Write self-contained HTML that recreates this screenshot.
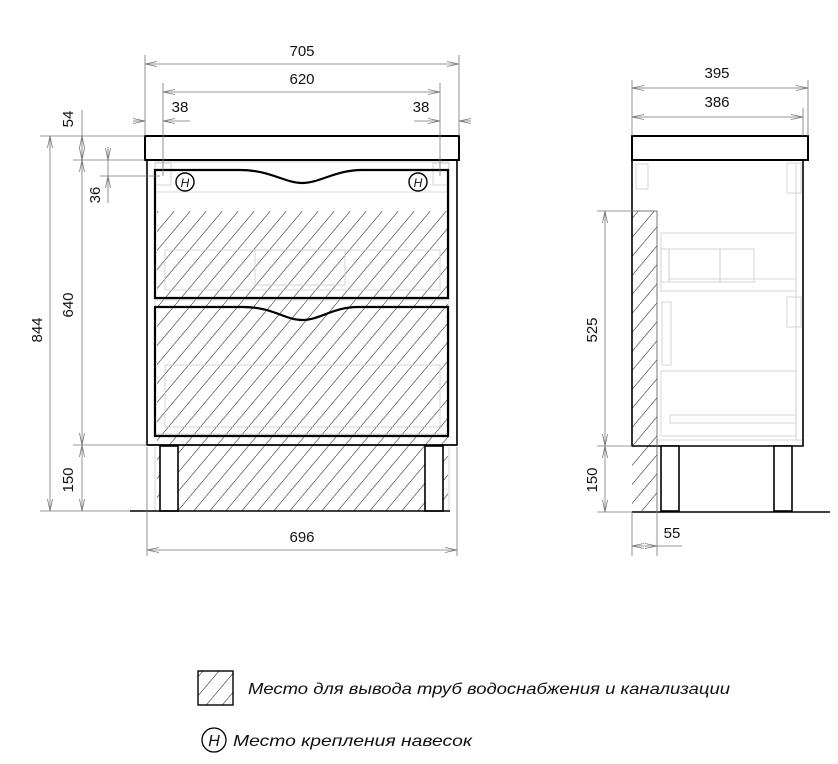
<!DOCTYPE html>
<html><head><meta charset="utf-8"><style>
html,body{margin:0;padding:0;background:#fff;width:838px;height:764px;overflow:hidden}
svg{display:block}
text{font-family:"Liberation Sans",sans-serif;fill:#111}
</style></head><body>
<svg width="838" height="764" viewBox="0 0 838 764" xmlns="http://www.w3.org/2000/svg">
<defs>
<pattern id="h" patternUnits="userSpaceOnUse" width="16" height="19">
<path d="M-16,19 L0,0 M0,19 L16,0 M16,19 L32,0" stroke="#444" stroke-width="0.65"/>
</pattern>
<marker id="a" markerWidth="12" markerHeight="6" refX="12" refY="3" orient="auto-start-reverse" markerUnits="userSpaceOnUse">
<path d="M0,0.5 L12,3 L0,5.5" fill="none" stroke="#777" stroke-width="0.8"/>
</marker>
</defs>

<!-- FRONT VIEW -->
<g fill="none">
<rect x="157" y="211" width="291" height="300" fill="url(#h)"/>
<g stroke="#ccc" stroke-width="0.8">
<rect x="155" y="162" width="294" height="272"/>
<line x1="155" y1="192" x2="448" y2="192"/>
<line x1="155" y1="300" x2="448" y2="300"/>
<rect x="165" y="250" width="275" height="40"/>
<rect x="255" y="250" width="90" height="35"/>
<rect x="165" y="365" width="275" height="62"/>
<line x1="155" y1="447" x2="155" y2="511"/>
<line x1="449" y1="447" x2="449" y2="511"/>
<rect x="155" y="163" width="16" height="22"/>
<rect x="433" y="163" width="16" height="22"/>
</g>
<rect x="145" y="136" width="314" height="24" stroke="#000" stroke-width="2" fill="#fff"/>
<path d="M147,160 V445 H457 V160" stroke="#000" stroke-width="1.6"/>
<path d="M155,170 H240 C270,170 285,183 302,183 C320,183 335,170 362,170 H448 V298 H155 Z" stroke="#000" stroke-width="2.2"/>
<path d="M155,307 H243 C273,307 285,320 302,320 C320,320 333,307 358,307 H448 V436 H155 Z" stroke="#000" stroke-width="2.2"/>
<line x1="147" y1="445" x2="457" y2="445" stroke="#000" stroke-width="1.6"/>
<rect x="160" y="446" width="18" height="65" stroke="#000" stroke-width="1.6" fill="#fff"/>
<rect x="425" y="446" width="18" height="65" stroke="#000" stroke-width="1.6" fill="#fff"/>
<line x1="130" y1="511" x2="450" y2="511" stroke="#000" stroke-width="1.6"/>
<circle cx="185" cy="182" r="9" stroke="#000" stroke-width="1.4" fill="#fff"/>
<circle cx="418" cy="182" r="9" stroke="#000" stroke-width="1.4" fill="#fff"/>
</g>
<text x="185" y="187" font-size="12" font-style="italic" text-anchor="middle">H</text>
<text x="418" y="187" font-size="12" font-style="italic" text-anchor="middle">H</text>

<g stroke="#777" stroke-width="0.8" fill="none">
<line x1="145" y1="55" x2="145" y2="136"/>
<line x1="459" y1="55" x2="459" y2="136"/>
<line x1="163" y1="83" x2="163" y2="176"/>
<line x1="440" y1="83" x2="440" y2="176"/>
<line x1="145" y1="64" x2="459" y2="64" marker-start="url(#a)" marker-end="url(#a)"/>
<line x1="163" y1="92" x2="440" y2="92" marker-start="url(#a)" marker-end="url(#a)"/>
<line x1="133" y1="121" x2="145" y2="121" marker-end="url(#a)"/>
<line x1="190" y1="121" x2="163" y2="121" marker-end="url(#a)"/>
<line x1="414" y1="121" x2="440" y2="121" marker-end="url(#a)"/>
<line x1="471" y1="121" x2="459" y2="121" marker-end="url(#a)"/>
<line x1="40" y1="136" x2="145" y2="136"/>
<line x1="73" y1="160" x2="145" y2="160"/>
<line x1="100" y1="176" x2="160" y2="176"/>
<line x1="73" y1="445" x2="147" y2="445"/>
<line x1="40" y1="511" x2="130" y2="511"/>
<line x1="50" y1="136" x2="50" y2="511" marker-start="url(#a)" marker-end="url(#a)"/>
<line x1="82" y1="110" x2="82" y2="136"/>
<line x1="82" y1="136" x2="82" y2="160" marker-start="url(#a)" marker-end="url(#a)"/>
<line x1="82" y1="160" x2="82" y2="445" marker-start="url(#a)" marker-end="url(#a)"/>
<line x1="82" y1="445" x2="82" y2="511" marker-start="url(#a)" marker-end="url(#a)"/>
<line x1="108" y1="147" x2="108" y2="160" marker-end="url(#a)"/>
<line x1="108" y1="203" x2="108" y2="176" marker-end="url(#a)"/>
<line x1="108" y1="160" x2="108" y2="176"/>
<line x1="147" y1="447" x2="147" y2="556"/>
<line x1="457" y1="447" x2="457" y2="556"/>
<line x1="147" y1="550" x2="457" y2="550" marker-start="url(#a)" marker-end="url(#a)"/>
</g>
<g font-size="15">
<text x="302" y="56" text-anchor="middle">705</text>
<text x="302" y="84" text-anchor="middle">620</text>
<text x="180" y="112" text-anchor="middle">38</text>
<text x="421" y="112" text-anchor="middle">38</text>
<text x="302" y="542" text-anchor="middle">696</text>
<text transform="translate(42,330) rotate(-90)" text-anchor="middle">844</text>
<text transform="translate(73,305) rotate(-90)" text-anchor="middle">640</text>
<text transform="translate(73,119) rotate(-90)" text-anchor="middle">54</text>
<text transform="translate(100,195) rotate(-90)" text-anchor="middle">36</text>
<text transform="translate(73,480) rotate(-90)" text-anchor="middle">150</text>
<text transform="translate(597,330) rotate(-90)" text-anchor="middle">525</text>
<text transform="translate(597,480) rotate(-90)" text-anchor="middle">150</text>
<text x="717" y="78" text-anchor="middle">395</text>
<text x="717" y="107" text-anchor="middle">386</text>
<text x="672" y="538" text-anchor="middle">55</text>
</g>

<!-- SIDE VIEW -->
<g fill="none">
<rect x="632" y="211" width="25" height="300" fill="url(#h)"/>
<g stroke="#ccc" stroke-width="0.8">
<rect x="661" y="233" width="135" height="58"/>
<rect x="661" y="249" width="8" height="33"/>
<rect x="669" y="249" width="51" height="33"/>
<rect x="720" y="249" width="34" height="33"/>
<line x1="669" y1="279" x2="796" y2="279"/>
<rect x="662" y="302" width="9" height="63"/>
<rect x="661" y="371" width="135" height="65"/>
<rect x="670" y="415" width="126" height="8"/>
<line x1="657" y1="440" x2="803" y2="440"/>
<line x1="796" y1="163" x2="796" y2="440"/>
<rect x="787" y="163" width="14" height="30"/>
<rect x="787" y="297" width="14" height="30"/>
<rect x="636" y="164" width="12" height="25"/>
</g>
<rect x="632" y="136" width="176" height="24" stroke="#000" stroke-width="2" fill="#fff"/>
<path d="M632,160 V446 H803 V160" stroke="#000" stroke-width="1.6"/>
<line x1="632" y1="211" x2="657" y2="211" stroke="#555" stroke-width="0.8"/>
<line x1="657" y1="211" x2="657" y2="511" stroke="#555" stroke-width="0.8"/>
<rect x="661" y="446" width="18" height="65" stroke="#000" stroke-width="1.6" fill="#fff"/>
<rect x="774" y="446" width="18" height="65" stroke="#000" stroke-width="1.6" fill="#fff"/>
<line x1="632" y1="512" x2="830" y2="512" stroke="#000" stroke-width="1.6"/>
</g>
<g stroke="#777" stroke-width="0.8" fill="none">
<line x1="632" y1="80" x2="632" y2="136"/>
<line x1="808" y1="80" x2="808" y2="136"/>
<line x1="803" y1="108" x2="803" y2="136"/>
<line x1="632" y1="88" x2="808" y2="88" marker-start="url(#a)" marker-end="url(#a)"/>
<line x1="632" y1="117" x2="803" y2="117" marker-start="url(#a)" marker-end="url(#a)"/>
<line x1="597" y1="211" x2="657" y2="211"/>
<line x1="597" y1="446" x2="632" y2="446"/>
<line x1="597" y1="512" x2="632" y2="512"/>
<line x1="605" y1="211" x2="605" y2="446" marker-start="url(#a)" marker-end="url(#a)"/>
<line x1="605" y1="446" x2="605" y2="512" marker-start="url(#a)" marker-end="url(#a)"/>
<line x1="632" y1="512" x2="632" y2="556"/>
<line x1="657" y1="511" x2="657" y2="556"/>
<line x1="632" y1="546" x2="657" y2="546" marker-start="url(#a)" marker-end="url(#a)"/>
<line x1="657" y1="546" x2="682" y2="546"/>
</g>

<!-- LEGEND -->
<rect x="198" y="671" width="35" height="34" fill="url(#h)" stroke="#000" stroke-width="1.4"/>
<text x="248" y="694" font-size="16" font-style="italic" textLength="482" lengthAdjust="spacingAndGlyphs">Место для вывода труб водоснабжения и канализации</text>
<circle cx="214" cy="740" r="12" fill="none" stroke="#000" stroke-width="1.3"/>
<text x="214" y="746" font-size="16" font-style="italic" text-anchor="middle">H</text>
<text x="233" y="746" font-size="16" font-style="italic" textLength="239" lengthAdjust="spacingAndGlyphs">Место крепления навесок</text>
</svg>
</body></html>
